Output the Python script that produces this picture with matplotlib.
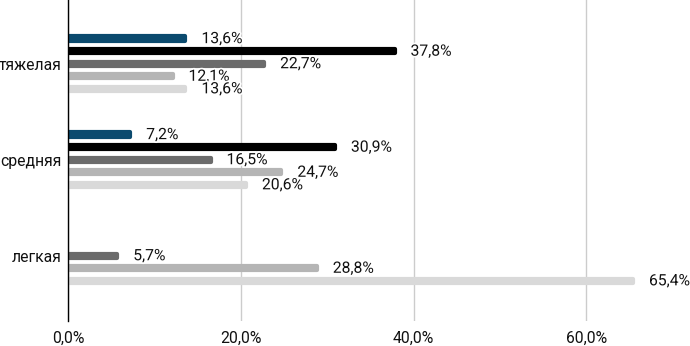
#!/usr/bin/env python3
# -*- coding: utf-8 -*-
import numpy as np
import matplotlib
matplotlib.use("Agg")
import matplotlib.pyplot as plt
import matplotlib.patheffects as pe

# Daten (Werte in %)
categories = ["тяжелая", "средняя", "легкая"]
series_names = ["Серия 1", "Серия 2", "Серия 3", "Серия 4", "Серия 5"]
s1 = [13.6, 7.2, None]
s2 = [37.8, 30.9, None]
s3 = [22.7, 16.5, 5.7]
s4 = [12.1, 24.7, 28.8]
s5 = [13.6, 20.6, 65.4]
series = [s1, s2, s3, s4, s5]
colors = ["#0b4a6e", "#000000", "#6b6b6b", "#b5b5b5", "#d9d9d9"]

plt.rcParams["font.family"] = ["Roboto", "DejaVu Sans"]

fig = plt.figure(figsize=(6.9, 3.46), dpi=100)
ax = fig.add_axes([68 / 690, 25 / 346, 622 / 690, 321 / 346])

step = 0.1307
height = 0.046
y0 = np.arange(len(categories))

for i, (vals, col) in enumerate(zip(series, colors)):
    for j, v in enumerate(vals):
        if v is None:
            continue
        y = y0[j] + (i - 2) * step
        # dicke Randlinie mit runden Ecken -> abgerundete Balken
        ax.barh(y, v, height=height, color=col, edgecolor=col,
                linewidth=3.0, joinstyle="round", zorder=3)
        ax.annotate(f"{v:.1f}%".replace(".", ","), xy=(v, y),
                    xytext=(16, 0), textcoords="offset pixels",
                    va="center", ha="left", fontsize=11.3, color="#111111",
                    zorder=4,
                    path_effects=[pe.withStroke(linewidth=2.5, foreground="white")])

ax.set_xlim(0, 72)
ax.set_ylim(2.68, -0.664)
ax.set_xticks([0, 20, 40, 60])
ax.set_xticklabels(["0,0%", "20,0%", "40,0%", "60,0%"])
ax.set_yticks(y0)
ax.set_yticklabels(categories)
ax.tick_params(axis="both", length=0, labelsize=11.3, colors="#111111")
ax.tick_params(axis="x", pad=7)
ax.tick_params(axis="y", pad=4.5)
ax.grid(axis="x", color="#cccccc", linewidth=1, zorder=0)
for s in ["top", "right", "bottom"]:
    ax.spines[s].set_visible(False)
ax.spines["left"].set_color("#000000")
ax.spines["left"].set_linewidth(1)
ax.spines["left"].set_zorder(5)

fig.savefig("out.png", dpi=100)
